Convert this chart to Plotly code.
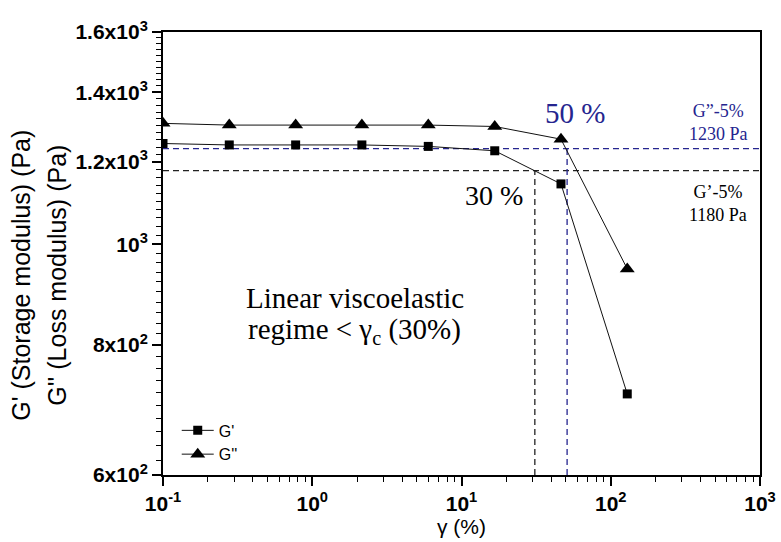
import plotly.graph_objects as go
import numpy as np

# ---- data ----
strain = [0.1, 0.278, 0.774, 2.15, 5.99, 16.7, 46.4, 129]
g_storage = [1250, 1246, 1246, 1246, 1242, 1230, 1143, 718]
g_loss = [1307, 1302, 1302, 1302, 1302, 1298, 1262, 947]

g_loss_5pct = 1236      # G''-5% threshold line
g_storage_5pct = 1177   # G'-5% threshold line
gamma_c_storage = 31    # critical strain from G'
gamma_c_loss = 51       # critical strain from G''

x_tickvals = [0.1, 1, 10, 100, 1000]
x_ticktext = ["<b>10<sup>-1</sup></b>", "<b>10<sup>0</sup></b>", "<b>10<sup>1</sup></b>",
              "<b>10<sup>2</sup></b>", "<b>10<sup>3</sup></b>"]
y_tickvals = [600, 800, 1000, 1200, 1400, 1600]
y_ticktext = ["<b>6x10<sup>2</sup></b>", "<b>8x10<sup>2</sup></b>", "<b>10<sup>3</sup></b>",
              "<b>1.2x10<sup>3</sup></b>", "<b>1.4x10<sup>3</sup></b>", "<b>1.6x10<sup>3</sup></b>"]

x_min, x_max = 0.1, 1000
y_min, y_max = 600, 1600

NAVY = "#25258f"
SERIF = "Liberation Serif, Times New Roman, serif"
SANS = "Liberation Sans, Arial, sans-serif"

fig = go.Figure()

# threshold dashed lines
fig.add_trace(go.Scatter(x=[x_min, x_max], y=[g_loss_5pct, g_loss_5pct], mode="lines",
                         line=dict(color=NAVY, width=1.3, dash="6px,4px"), showlegend=False, hoverinfo="skip"))
fig.add_trace(go.Scatter(x=[x_min, x_max], y=[g_storage_5pct, g_storage_5pct], mode="lines",
                         line=dict(color="#222222", width=1.3, dash="6px,4px"), showlegend=False, hoverinfo="skip"))
fig.add_trace(go.Scatter(x=[gamma_c_storage, gamma_c_storage], y=[y_min, g_storage_5pct], mode="lines",
                         line=dict(color="#222222", width=1.3, dash="6px,4px"), showlegend=False, hoverinfo="skip"))
fig.add_trace(go.Scatter(x=[gamma_c_loss, gamma_c_loss], y=[y_min, g_loss_5pct], mode="lines",
                         line=dict(color=NAVY, width=1.3, dash="6px,4px"), showlegend=False, hoverinfo="skip"))

# data series
fig.add_trace(go.Scatter(x=strain, y=g_storage, mode="lines+markers", name="G'",
                         line=dict(color="#111111", width=1),
                         marker=dict(symbol="square", size=9, color="black")))
fig.add_trace(go.Scatter(x=strain, y=g_loss, mode="lines+markers", name="G''",
                         line=dict(color="#111111", width=1),
                         marker=dict(symbol="triangle-up", size=13, color="black")))

minor_y = [v for v in range(600, 1601, 20)]
minor_x = [m * 10.0 ** e for e in range(-1, 3) for m in range(2, 10)]
fig.update_xaxes(type="log", range=[np.log10(x_min), np.log10(x_max)],
                 tickvals=x_tickvals, ticktext=x_ticktext,
                 ticks="outside", ticklen=9, tickwidth=1.5, tickcolor="black",
                 minor=dict(tickvals=minor_x, ticks="outside", ticklen=5, tickwidth=1.2,
                            tickcolor="black", showgrid=False),
                 showline=True, linecolor="black", linewidth=2, mirror=True,
                 showgrid=False, zeroline=False, automargin=False,
                 tickfont=dict(family=SANS, size=21, color="black"),
                 title=dict(text="γ (%)", font=dict(family=SANS, size=21, color="black"), standoff=5))
fig.update_yaxes(type="log", range=[np.log10(y_min), np.log10(y_max)],
                 tickvals=y_tickvals, ticktext=y_ticktext,
                 ticks="outside", ticklen=9, tickwidth=1.5, tickcolor="black",
                 minor=dict(tickvals=minor_y, ticks="outside", ticklen=5, tickwidth=1.2,
                            tickcolor="black", showgrid=False),
                 showline=True, linecolor="black", linewidth=2, mirror=True,
                 showgrid=False, zeroline=False, automargin=False,
                 tickfont=dict(family=SANS, size=21, color="black"))

annotations = [
    dict(x=0.0, y=0.45, xref="paper", yref="paper", xshift=-142, xanchor="center", yanchor="middle",
         text="G' (Storage modulus) (Pa)",
         textangle=-90, showarrow=False, font=dict(family=SANS, size=25, color="black")),
    dict(x=0.0, y=0.45, xref="paper", yref="paper", xshift=-106, xanchor="center", yanchor="middle",
         text="G'' (Loss modulus) (Pa)",
         textangle=-90, showarrow=False, font=dict(family=SANS, size=25, color="black")),
    dict(x=np.log10(57.5), y=np.log10(1336), xref="x", yref="y", text="50 %", showarrow=False,
         font=dict(family=SERIF, size=29, color=NAVY)),
    dict(x=np.log10(16.5), y=np.log10(1114), xref="x", yref="y", text="30 %", showarrow=False,
         font=dict(family=SERIF, size=28, color="black")),
    dict(x=np.log10(524), y=np.log10(1310), xref="x", yref="y", text="G”-5%<br>1230 Pa", showarrow=False,
         font=dict(family=SERIF, size=18, color=NAVY)),
    dict(x=np.log10(524), y=np.log10(1094), xref="x", yref="y", text="G’-5%<br>1180 Pa", showarrow=False,
         font=dict(family=SERIF, size=18, color="black")),
    dict(x=np.log10(1.93), y=np.log10(888), xref="x", yref="y",
         text="Linear viscoelastic", showarrow=False,
         font=dict(family=SERIF, size=29, color="black")),
    dict(x=np.log10(1.93), y=np.log10(826), xref="x", yref="y",
         text="regime < γ<sub>c</sub> (30%)", showarrow=False,
         font=dict(family=SERIF, size=29, color="black")),
]

fig.update_layout(
    width=781, height=542,
    margin=dict(l=163, r=21, t=32, b=67),
    paper_bgcolor="white", plot_bgcolor="white",
    showlegend=True,
    legend=dict(x=0.023, y=0.008, xanchor="left", yanchor="bottom", bgcolor="rgba(0,0,0,0)",
                font=dict(family=SANS, size=16, color="black"), tracegroupgap=0, itemwidth=32),
    annotations=annotations,
)

fig.write_html("out.html")
